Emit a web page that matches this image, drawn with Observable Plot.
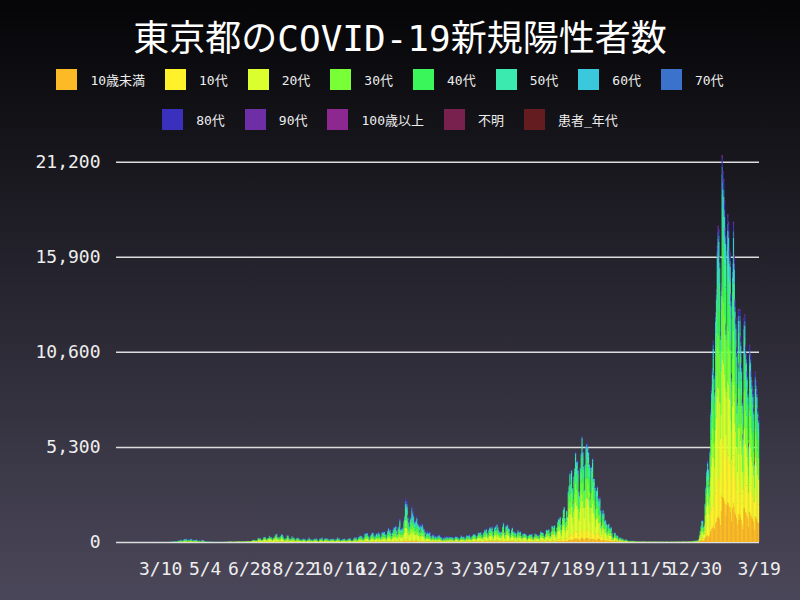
<!DOCTYPE html>
<html><head><meta charset="utf-8">
<script src="https://cdn.jsdelivr.net/npm/d3@7"></script>
<script src="https://cdn.jsdelivr.net/npm/@observablehq/plot@0.6"></script>
<style>
html,body{margin:0;padding:0;}
body{width:800px;height:600px;overflow:hidden;background:linear-gradient(#050507,#4b475a);font-family:"DejaVu Sans Mono","Noto Sans CJK JP",monospace;color:#fff;position:relative;}
#title{position:absolute;top:14px;left:0;width:800px;text-align:center;font-size:36px;line-height:50px;font-family:"DejaVu Sans Mono","Noto Sans CJK JP",monospace;}
#legend{position:absolute;top:69px;left:40px;width:720px;display:flex;flex-wrap:wrap;justify-content:center;row-gap:19px;}
.item{display:flex;align-items:center;height:21px;margin-right:20px;font-size:13px;color:#eee;white-space:nowrap}
.sw{width:21px;height:21px;margin-right:13px;flex:none}
#chart{position:absolute;top:140px;left:0}
</style></head>
<body>
<div id="title">東京都のCOVID-19新規陽性者数</div>
<div id="legend"></div>
<div id="chart"></div>
<script>
// age categories (stack order bottom→top) and colours
const categories = ["10歳未満","10代","20代","30代","40代","50代","60代","70代","80代","90代","100歳以上","不明","患者_年代"];
const colors = ["#fcbb26","#fff22b","#dbff2e","#78ff36","#3af65a","#3aeaae","#3ac8dc","#3a72cc","#3a30be","#6e2ea6","#8c2890","#78204e","#641c20"];

// daily new positives, from 2020-01-16 to 2022-03-19
const firstDay = "2020-01-16";
const daily = [
// 2020-01 (16-31)
0,0,0,0,0,0,0,0,1,1,0,0,0,0,1,0,
// 2020-02
0,0,0,0,0,0,0,0,0,0,0,0,1,2,8,5,0,3,3,0,3,1,0,1,0,3,1,1,3,
// 2020-03
1,1,1,2,8,6,3,2,2,0,7,2,2,8,2,2,8,7,3,10,10,3,16,17,41,47,40,63,68,13,78,
// 2020-04
66,97,89,118,143,83,87,144,178,189,197,166,91,161,127,149,201,181,107,102,123,132,134,161,103,72,39,112,47,46,
// 2020-05
165,154,91,87,58,38,23,39,36,22,15,28,10,30,9,14,5,10,5,11,3,3,2,14,8,10,11,22,22,14,5,
// 2020-06
13,34,12,28,20,26,14,13,12,18,22,25,24,47,48,27,16,41,35,39,29,35,31,55,48,54,57,60,58,54,
// 2020-07
67,107,124,131,111,102,106,75,224,243,206,206,119,143,165,286,293,290,188,168,237,238,366,260,295,239,131,266,250,367,463,
// 2020-08
472,292,258,309,263,360,462,429,331,197,188,222,206,389,385,260,161,207,186,339,258,256,212,95,182,236,250,226,148,148,100,
// 2020-09
170,141,211,181,181,116,77,170,149,276,187,146,146,80,163,149,220,181,218,162,88,59,195,215,195,270,144,78,194,212,
// 2020-10
235,196,207,143,102,178,177,186,187,203,146,78,166,177,284,185,235,132,78,139,150,185,186,203,124,102,158,170,221,215,215,
// 2020-11
116,87,122,209,269,242,294,189,157,293,317,393,374,352,255,180,298,493,534,522,539,391,314,186,401,481,570,561,418,311,
// 2020-12
372,500,533,449,584,480,299,352,572,602,595,621,480,460,305,678,822,664,736,556,392,563,748,884,888,949,708,481,856,944,1337,
// 2021-01
783,814,816,884,1278,1591,2447,2392,2268,1494,1219,970,1433,1502,2044,1809,1592,1204,1240,1274,1471,1175,1070,986,618,1026,973,1064,868,769,633,
// 2021-02
393,556,676,577,577,639,429,276,412,491,434,307,369,371,266,378,445,445,353,327,272,178,275,213,340,270,337,329,
// 2021-03
232,316,279,301,301,293,237,116,290,340,335,304,289,239,175,300,409,323,303,342,256,187,337,420,394,376,430,313,234,364,414,
// 2021-04
475,440,446,355,249,399,555,545,537,570,421,306,510,591,729,667,759,543,405,711,843,861,759,876,635,425,828,925,698,1027,
// 2021-05
879,708,609,545,621,591,907,1121,573,419,925,969,1010,854,772,542,419,732,843,614,619,539,535,340,537,684,614,570,614,383,260,
// 2021-06
471,487,508,472,436,351,209,369,440,439,435,467,304,209,337,501,452,453,388,376,236,435,619,570,562,534,386,317,476,714,
// 2021-07
673,660,716,518,342,593,920,896,822,950,614,502,830,1149,1308,1271,1410,1008,727,1387,1832,1979,1359,1128,1763,1429,2848,3177,3865,3300,4058,
// 2021-08
3058,2195,3709,4166,5042,4515,4566,4066,2884,2612,4200,4989,5908,5094,4295,2962,4377,5386,5534,5405,5074,4392,2447,4220,4228,4704,3581,3581,3081,1915,2909,
// 2021-09
3168,2539,2362,2539,1853,968,1629,1834,1675,1242,1273,1067,611,1004,1052,831,782,862,538,302,253,537,531,390,382,362,154,248,267,218,
// 2021-10
200,200,161,87,144,149,138,82,82,60,49,77,62,62,72,66,40,29,36,41,36,26,32,19,17,29,36,21,26,26,22,
// 2021-11
9,18,29,13,22,25,21,9,24,29,23,24,22,24,12,18,21,21,16,19,22,15,12,18,24,20,22,9,9,13,
// 2021-12
17,12,20,22,16,13,16,21,24,22,24,21,12,21,34,24,30,28,26,15,23,36,41,34,37,43,32,46,76,64,78,
// 2022-01
79,84,103,151,390,641,922,1224,1223,871,962,2198,3124,4051,4561,4172,3190,5185,7377,8638,9699,11227,9468,8503,12813,14086,16538,17631,17433,15895,11751,
// 2022-02
14445,21576,20679,20262,19079,17526,12183,17113,18287,17864,16350,16151,13841,9398,15525,17864,16000,13518,12519,10862,8000,13000,10000,13000,11500,10000,8000,6000,
// 2022-03 (1-19)
12500,12700,11000,10500,9500,8500,5500,11000,10500,9500,9000,8500,7500,4500,9500,9000,8500,7500,7000
];

// monthly age mix (% of the day's positives), one row per month 2020-01 … 2022-03, columns = categories
const months = ["2020-01","2020-02","2020-03","2020-04","2020-05","2020-06","2020-07","2020-08","2020-09","2020-10","2020-11","2020-12",
  "2021-01","2021-02","2021-03","2021-04","2021-05","2021-06","2021-07","2021-08","2021-09","2021-10","2021-11","2021-12",
  "2022-01","2022-02","2022-03"];
const ageMix = [
  [0,0,0,0,60,20,20,0,0,0,0,0,0],
  [0,0,5,5,10,15,20,25,15,5,0,0,0],
  [1,2,14,12,15,16,14,12,9,5,0,0,0],
  [1,2,20,18,17,16,10,8,6,2,0,0,0],
  [1,2,15,13,14,15,12,11,12,5,0,0,0],
  [1,2,50,20,10,7,4,3,2,1,0,0,0],
  [1,3,45,21,12,8,4,3,2,1,0,0,0],
  [2,4,32,22,15,12,6,4,2,1,0,0,0],
  [2,3,28,20,15,13,8,6,4,1,0,0,0],
  [2,3,28,20,15,13,8,6,4,1,0,0,0],
  [2,4,27,19,16,13,8,6,4,1,0,0,0],
  [2,4,26,18,16,14,9,6,4,1,0,0,0],
  [2,4,27,18,15,13,8,7,4,2,0,0,0],
  [3,4,22,15,14,13,9,8,8,4,0,0,0],
  [3,5,27,16,15,13,8,6,5,2,0,0,0],
  [4,6,32,18,15,12,6,4,2,1,0,0,0],
  [4,7,31,18,15,12,6,4,2,1,0,0,0],
  [4,8,33,18,15,11,5,3,2,1,0,0,0],
  [3,8,37,20,16,11,3,1,1,0,0,0,0],
  [4,9,32,20,17,12,4,1,1,0,0,0,0],
  [6,11,26,18,17,12,5,3,1,1,0,0,0],
  [5,9,28,18,15,12,6,4,2,1,0,0,0],
  [5,8,28,18,15,12,6,4,3,1,0,0,0],
  [4,8,32,18,15,11,5,4,2,1,0,0,0],
  [8,13,28,17,15,10,5,2,1,1,0,0,0],
  [12,15,22,17,15,9,5,2,2,1,0,0,0],
  [15,15,20,17,15,8,5,2,2,1,0,0,0]
];

const xTickLabels = ["2020-03-10","2020-05-04","2020-06-28","2020-08-22","2020-10-16","2020-12-10","2021-02-03","2021-03-30","2021-05-24","2021-07-18","2021-09-11","2021-11-05","2021-12-30","2022-03-19"];
const yTicks = [0,5300,10600,15900,21200];

// legend
const leg = document.getElementById("legend");
categories.forEach((c,i)=>{
  const it=document.createElement("div");it.className="item";
  const sw=document.createElement("div");sw.className="sw";sw.style.background=colors[i];
  const tx=document.createElement("span");tx.textContent=c;
  it.appendChild(sw);it.appendChild(tx);leg.appendChild(it);
});

// build long table
const day0 = new Date(firstDay+"T00:00:00Z");
const monthIndex = new Map(months.map((m,i)=>[m,i]));
const rows = [];
daily.forEach((total,i)=>{
  const d0 = d3.utcDay.offset(day0,i), d1 = d3.utcDay.offset(day0,i+1);
  const mix = ageMix[monthIndex.get(d3.utcFormat("%Y-%m")(d0))];
  categories.forEach((c,j)=>{
    const v = total*mix[j]/100;
    if (v>0) rows.push({d0,d1,cat:c,v});
  });
});

const xDomain = [day0, d3.utcDay.offset(day0, daily.length)];
const xTicks = xTickLabels.map(s=>new Date(s+"T12:00:00Z"));

const chart = Plot.plot({
  width: 800, height: 460,
  marginLeft: 116, marginRight: 41, marginTop: 15, marginBottom: 58,
  style: {background:"transparent", color:"#eee", fontFamily:"'DejaVu Sans Mono', monospace", fontSize:"18px", overflow:"visible"},
  x: {type:"utc", domain:xDomain, ticks:xTicks, tickFormat:d3.utcFormat("%-m/%-d"), tickSize:0, tickPadding:20, label:null},
  y: {domain:[0, d3.max(daily)], ticks:yTicks, tickFormat:d3.format(","), tickSize:0, tickPadding:16, label:null},
  color: {domain:categories, range:colors},
  marks: [
    Plot.ruleY(yTicks, {stroke:"#dddddd", strokeWidth:1.5}),
    Plot.rectY(rows, {x1:"d0", x2:"d1", y:"v", fill:"cat", insetLeft:-0.2, insetRight:-0.2})
  ]
});
document.getElementById("chart").appendChild(chart);
</script>
</body></html>
